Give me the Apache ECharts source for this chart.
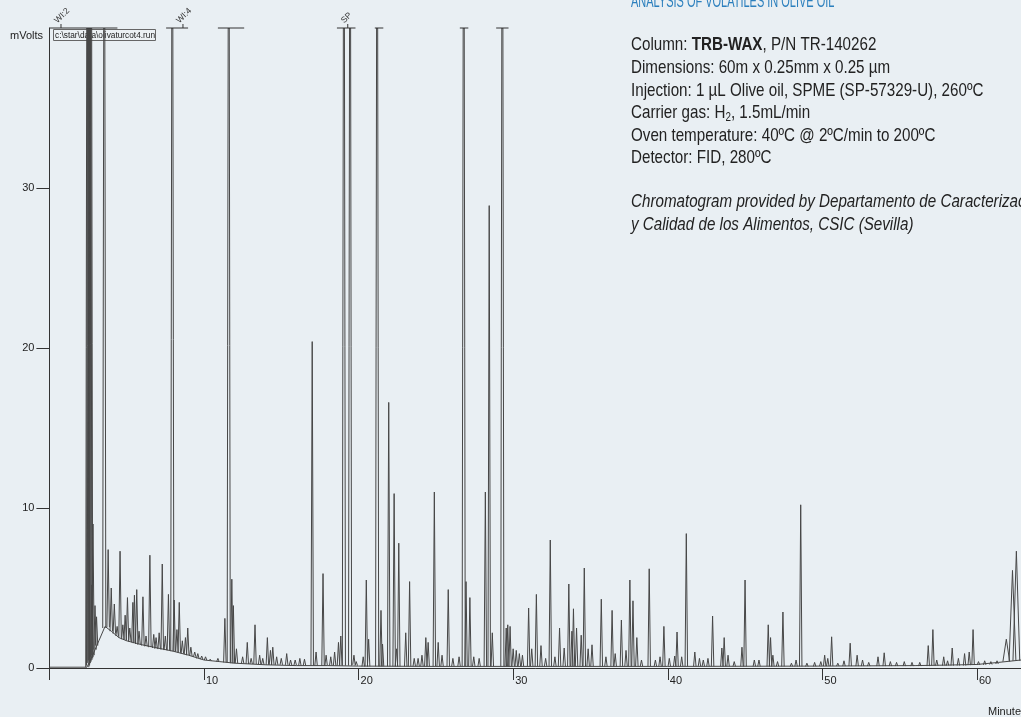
<!DOCTYPE html>
<html><head><meta charset="utf-8">
<script src="https://cdn.jsdelivr.net/npm/echarts@6/dist/echarts.min.js"></script>
<style>html,body{margin:0;padding:0;background:#e9eff3;overflow:hidden;} #c{width:1021px;height:717px;}</style>
</head><body><div id="c"></div>
<script>
// ---------- axis ticks ----------
const xTickValues = [0, 10, 20, 30, 40, 50, 60];
const xTickLabels = [10, 20, 30, 40, 50, 60];
const yTickValues = [0, 10, 20, 30];
const yMax = 40;          // top of the detector range (off-scale peaks are clipped here)
const xMax = 62.85;       // visible end of the run (minutes)

// ---------- baseline (lower envelope of the trace), minutes / mV ----------
const baseTime  = [0, 2.43, 2.8, 3.2, 3.6, 4.0, 4.5, 5.0, 6.0, 7.0, 8.0, 9.0, 10.0, 11.0, 12.0, 14.0, 16.0, 18.0, 20.0, 25, 30, 40, 50, 56, 58, 60, 61.4, 62.85];
const baseValue = [0.05, 0.05, 0.8, 1.7, 2.6, 2.3, 1.9, 1.7, 1.45, 1.25, 1.05, 0.8, 0.5, 0.4, 0.3, 0.2, 0.15, 0.15, 0.12, 0.1, 0.1, 0.1, 0.12, 0.15, 0.18, 0.22, 0.35, 0.5];

// ---------- on-scale peaks: retention time (min), apex (mV), foot (mV) ----------
const peakTime = [2.75, 2.82, 2.95, 3.05, 3.8, 4.0, 4.2, 4.38, 4.57, 4.75, 4.9, 5.05, 5.2, 5.4, 5.5, 5.65, 5.8, 6.05, 6.25, 6.5, 6.75, 6.9, 7.1, 7.3, 7.5, 7.7, 8.07, 8.25, 8.4, 8.6, 8.8, 8.95, 9.15, 9.4, 9.6, 9.85, 10.1, 10.4, 10.9, 11.35, 11.8, 11.9, 12.1, 12.5, 12.8, 13.05, 13.3, 13.6, 13.8, 14.1, 14.3, 14.45, 14.7, 15.0, 15.35, 15.6, 15.9, 16.2, 16.5, 17.0, 17.25, 17.7, 17.9, 18.2, 18.45, 18.7, 18.85, 19.7, 19.85, 20.3, 20.5, 20.65, 21.45, 21.55, 21.95, 22.3, 22.45, 22.6, 23.05, 23.3, 23.6, 23.85, 24.1, 24.35, 24.5, 24.9, 25.15, 25.4, 25.8, 26.1, 26.5, 26.95, 27.2, 27.45, 27.8, 28.2, 28.45, 28.65, 29.55, 29.65, 29.8, 30.0, 30.2, 30.4, 30.6, 31.0, 31.2, 31.5, 31.8, 32.1, 32.4, 32.7, 33.0, 33.3, 33.6, 33.8, 33.9, 34.1, 34.4, 34.6, 34.85, 35.1, 35.7, 36.0, 36.4, 36.6, 37.0, 37.3, 37.55, 37.75, 38.0, 38.3, 38.8, 39.2, 39.5, 39.75, 40.1, 40.45, 40.6, 40.9, 41.2, 41.75, 42.05, 42.3, 42.6, 42.9, 43.5, 43.65, 43.9, 44.3, 44.8, 45.0, 45.6, 45.9, 46.5, 46.65, 46.8, 47.1, 47.45, 48.0, 48.3, 48.6, 49.0, 49.5, 49.9, 50.15, 50.35, 50.6, 51.0, 51.4, 51.8, 52.25, 52.6, 53.0, 53.6, 54.0, 54.4, 54.8, 55.3, 55.8, 56.3, 56.85, 57.15, 57.4, 57.85, 58.1, 58.4, 58.8, 59.2, 59.5, 59.75, 60.1, 60.5, 60.9, 61.3];
const peakTop  = [5.2, 9.0, 3.9, 3.2, 7.4, 5.0, 4.0, 2.6, 7.3, 2.7, 3.3, 4.4, 2.5, 4.1, 4.55, 4.9, 2.3, 4.45, 2.0, 7.05, 2.1, 1.9, 2.2, 6.5, 2.0, 4.6, 4.25, 2.4, 4.1, 1.7, 1.9, 2.5, 1.3, 1.0, 0.9, 0.75, 0.7, 0.55, 0.6, 3.1, 5.55, 3.9, 1.2, 0.7, 1.6, 0.6, 2.7, 0.8, 0.6, 1.9, 1.1, 1.3, 0.7, 0.6, 0.9, 0.5, 0.5, 0.6, 0.55, 20.4, 1.0, 5.9, 0.8, 0.7, 1.0, 1.6, 2.0, 0.8, 0.4, 0.7, 5.5, 1.8, 3.6, 1.5, 16.6, 10.9, 1.2, 7.8, 2.2, 5.4, 0.6, 0.6, 0.8, 1.9, 1.6, 11.0, 1.6, 0.8, 4.9, 0.6, 0.7, 5.4, 4.4, 0.7, 0.6, 11.0, 28.9, 2.2, 2.5, 2.7, 2.6, 1.2, 1.1, 0.9, 0.8, 3.75, 1.2, 4.6, 1.4, 0.6, 8.0, 0.7, 2.5, 1.25, 5.25, 2.3, 3.7, 2.5, 2.05, 6.25, 1.2, 1.45, 4.3, 0.7, 3.6, 0.9, 3.0, 1.1, 5.5, 4.2, 1.9, 0.5, 6.2, 0.5, 0.7, 2.6, 0.6, 0.75, 2.25, 0.7, 8.4, 1.0, 0.6, 0.5, 0.6, 3.25, 1.25, 1.9, 0.8, 0.4, 1.3, 5.5, 0.5, 0.5, 2.7, 1.9, 0.8, 0.4, 3.5, 0.3, 0.5, 10.2, 0.3, 0.35, 0.4, 0.8, 0.6, 1.95, 0.3, 0.45, 1.55, 0.8, 0.5, 0.35, 0.7, 0.95, 0.4, 0.35, 0.4, 0.35, 0.35, 1.4, 2.4, 0.5, 0.7, 0.45, 1.25, 0.6, 0.9, 1.0, 2.4, 0.4, 0.45, 0.4, 0.45];
const peakBase = [0.7, 0.8, 1.15, 1.4, 2.55, 2.3, 2.15, 2.0, 1.9, 1.8, 1.75, 1.7, 1.65, 1.6, 1.55, 1.5, 1.45, 1.4, 1.35, 1.3, 1.25, 1.2, 1.18, 1.15, 1.12, 1.1, 1.05, 1.0, 0.95, 0.9, 0.85, 0.8, 0.75, 0.7, 0.6, 0.55, 0.5, 0.45, 0.4, 0.35, 0.3, 0.3, 0.3, 0.28, 0.25, 0.25, 0.25, 0.22, 0.22, 0.2, 0.2, 0.2, 0.2, 0.2, 0.2, 0.18, 0.18, 0.15, 0.15, 0.15, 0.15, 0.15, 0.15, 0.15, 0.15, 0.15, 0.15, 0.2, 0.15, 0.1, 0.1, 0.1, 0.1, 0.1, 0.1, 0.1, 0.1, 0.1, 0.1, 0.1, 0.1, 0.1, 0.1, 0.1, 0.1, 0.1, 0.1, 0.1, 0.1, 0.1, 0.1, 0.1, 0.1, 0.1, 0.1, 0.1, 0.1, 0.1, 0.1, 0.1, 0.1, 0.1, 0.1, 0.1, 0.1, 0.1, 0.1, 0.1, 0.1, 0.1, 0.1, 0.1, 0.1, 0.1, 0.1, 0.1, 0.1, 0.1, 0.1, 0.1, 0.1, 0.1, 0.1, 0.1, 0.1, 0.1, 0.1, 0.1, 0.1, 0.1, 0.1, 0.1, 0.1, 0.1, 0.1, 0.1, 0.1, 0.1, 0.1, 0.1, 0.1, 0.1, 0.1, 0.1, 0.1, 0.1, 0.1, 0.1, 0.1, 0.1, 0.1, 0.1, 0.1, 0.1, 0.1, 0.1, 0.1, 0.1, 0.1, 0.1, 0.1, 0.1, 0.1, 0.1, 0.12, 0.12, 0.12, 0.12, 0.12, 0.12, 0.12, 0.12, 0.12, 0.12, 0.12, 0.12, 0.12, 0.12, 0.12, 0.12, 0.12, 0.12, 0.15, 0.15, 0.15, 0.15, 0.15, 0.15, 0.15, 0.18, 0.2, 0.2, 0.2, 0.22, 0.25, 0.28, 0.32];

// ---------- broad late-eluting peaks ----------
const broadTime = [61.9, 62.3, 62.55];
const broadTop  = [1.8, 6.1, 7.3];
const broadBase = [0.4, 0.45, 0.45];

// ---------- off-scale peaks (clipped at the top of the range) ----------
const clippedTime = [2.45, 2.5, 2.55, 2.6, 2.65, 2.7, 3.55, 7.95, 11.6, 19.05, 19.45, 21.2, 26.8, 29.3];
const clippedBase = [0.05, 0.15, 0.3, 0.4, 0.5, 0.6, 2.5, 1.05, 0.33, 0.15, 0.15, 0.1, 0.1, 0.1];

// ---------- over-range caps drawn at the top (minutes) ----------
const capStart = [0, 7.55, 10.9, 18.6, 21.05, 26.55, 28.9];
const capEnd   = [4.4, 8.97, 12.6, 19.8, 21.6, 27.1, 29.7];

// ---------- peak annotations ----------
const annotName = ['WI:2', 'WI:4', 'SP'];
const annotTime = [0.75, 8.64, 19.3];

const FONT = "'Liberation Sans', Arial, sans-serif";
const TRACE = '#474747';

function peakSeries(data, halfWidth, clipped) {
  return {
    type: 'custom', clip: true, silent: true,
    encode: { x: 0, y: 1 },
    data: data,
    renderItem: function (params, api) {
      const t = api.value(0), top = api.value(1), base = api.value(2);
      const pts = clipped
        ? [api.coord([t - halfWidth, base]), api.coord([t - halfWidth * 0.35, top]), api.coord([t + halfWidth * 0.35, top]), api.coord([t + halfWidth, base])]
        : [api.coord([t - halfWidth, base]), api.coord([t, top]), api.coord([t + halfWidth, base])];
      return { type: 'polyline', shape: { points: pts }, style: { stroke: TRACE, lineWidth: 1, fill: null } };
    }
  };
}

const chart = echarts.init(document.getElementById('c'));
chart.setOption({
  backgroundColor: '#e9eff3',
  animation: false,
  grid: { left: 49.4, right: 0, top: 28, bottom: 49 },
  xAxis: {
    type: 'value', min: 0, max: xMax, interval: 10,
    splitLine: { show: false },
    axisLine: { show: true, onZero: false, lineStyle: { color: '#333', width: 1 } },
    axisTick: { show: true, length: 12, customValues: xTickValues, lineStyle: { color: '#333' } },
    axisLabel: { customValues: xTickLabels, align: 'left', margin: 7, padding: [0, 0, 0, 2], fontSize: 11, color: '#222', fontFamily: FONT }
  },
  yAxis: {
    type: 'value', min: 0, max: yMax, interval: 10,
    splitLine: { show: false },
    axisLine: { show: true, lineStyle: { color: '#333', width: 1 } },
    axisTick: { show: true, length: 13, customValues: yTickValues, lineStyle: { color: '#333' } },
    axisLabel: { customValues: yTickValues, margin: 15, fontSize: 11, color: '#222', fontFamily: FONT }
  },
  series: [
    {
      type: 'line', showSymbol: false, silent: true,
      data: baseTime.map((t, i) => [t, baseValue[i]]),
      lineStyle: { color: TRACE, width: 1 }
    },
    peakSeries(peakTime.map((t, i) => [t, peakTop[i], peakBase[i]]), 0.08, false),
    peakSeries(broadTime.map((t, i) => [t, broadTop[i], broadBase[i]]), 0.22, false),
    peakSeries(clippedTime.map((t, i) => [t, yMax, clippedBase[i]]), 0.1, true),
    {
      type: 'custom', clip: false, silent: true,
      encode: { x: [0, 1] },
      data: capStart.map((s, i) => [s, capEnd[i]]),
      renderItem: function (params, api) {
        const a = api.coord([api.value(0), yMax]), b = api.coord([api.value(1), yMax]);
        return { type: 'line', shape: { x1: a[0], y1: a[1], x2: b[0], y2: b[1] }, style: { stroke: '#333', lineWidth: 1 } };
      }
    },
    {
      type: 'custom', clip: false, silent: true,
      encode: { x: 0 },
      data: annotTime.map((t, i) => [t, annotName[i]]),
      dimensions: ['t', { name: 'name', type: 'ordinal' }],
      renderItem: function (params, api) {
        const i = params.dataIndex;
        const p = api.coord([annotTime[i], yMax]);
        return {
          type: 'group',
          children: [
            { type: 'line', shape: { x1: p[0], y1: p[1] - 4, x2: p[0], y2: p[1] }, style: { stroke: '#333', lineWidth: 1 } },
            { type: 'text', x: p[0] - 2, y: p[1] - 3, rotation: Math.PI / 4,
              style: { text: annotName[i], fill: '#333', font: "8.5px " + FONT, align: 'left', verticalAlign: 'bottom' } }
          ]
        };
      }
    }
  ],
  graphic: [
    { type: 'text', left: 10, top: 30, style: { text: 'mVolts', fill: '#222', font: '11px ' + FONT } },
    { type: 'rect', shape: { x: 53.5, y: 29.5, width: 102, height: 11 }, style: { fill: 'rgba(255,255,255,0.15)', stroke: '#666', lineWidth: 1 } },
    { type: 'text', x: 55, y: 35.5, style: { text: 'c:\\star\\data\\olivaturcot4.run', fill: '#222', font: '8.3px ' + FONT, verticalAlign: 'middle' } },
    { type: 'text', x: 988, y: 712, style: { text: 'Minutes', fill: '#222', font: '11px ' + FONT, verticalAlign: 'middle' } },
    { type: 'text', x: 631, y: 11.5, scaleX: 0.61, style: { text: 'ANALYSIS OF VOLATILES IN OLIVE OIL', fill: '#2b7fbd', font: '18px ' + FONT, verticalAlign: 'bottom' } },
    { type: 'text', x: 631, y: 45, scaleX: 0.82, style: { text: '{a|Column: }{b|TRB-WAX}{a|, P/N TR-140262}', verticalAlign: 'middle',
        rich: { a: { fill: '#222', font: '18.5px ' + FONT }, b: { fill: '#222', font: 'bold 18.5px ' + FONT } } } },
    { type: 'text', x: 631, y: 68, scaleX: 0.82, style: { text: 'Dimensions: 60m x 0.25mm x 0.25 µm', fill: '#222', font: '18.5px ' + FONT, verticalAlign: 'middle' } },
    { type: 'text', x: 631, y: 90.5, scaleX: 0.82, style: { text: 'Injection: 1 µL Olive oil, SPME (SP-57329-U), 260ºC', fill: '#222', font: '18.5px ' + FONT, verticalAlign: 'middle' } },
    { type: 'text', x: 631, y: 113, scaleX: 0.82, style: { text: '{a|Carrier gas: H}{s|2}{a|, 1.5mL/min}', verticalAlign: 'middle',
        rich: { a: { fill: '#222', font: '18.5px ' + FONT, lineHeight: 22 }, s: { fill: '#222', font: '12px ' + FONT, lineHeight: 13, verticalAlign: 'top', padding: [10, 0, 0, 0] } } } },
    { type: 'text', x: 631, y: 135.5, scaleX: 0.82, style: { text: 'Oven temperature: 40ºC @ 2ºC/min to 200ºC', fill: '#222', font: '18.5px ' + FONT, verticalAlign: 'middle' } },
    { type: 'text', x: 631, y: 158, scaleX: 0.82, style: { text: 'Detector: FID, 280ºC', fill: '#222', font: '18.5px ' + FONT, verticalAlign: 'middle' } },
    { type: 'text', x: 631, y: 202, scaleX: 0.82, style: { text: 'Chromatogram provided by Departamento de Caracterización', fill: '#222', font: 'italic 18.5px ' + FONT, verticalAlign: 'middle' } },
    { type: 'text', x: 631, y: 224.5, scaleX: 0.82, style: { text: 'y Calidad de los Alimentos, CSIC (Sevilla)', fill: '#222', font: 'italic 18.5px ' + FONT, verticalAlign: 'middle' } }
  ]
});
</script>
</body></html>
